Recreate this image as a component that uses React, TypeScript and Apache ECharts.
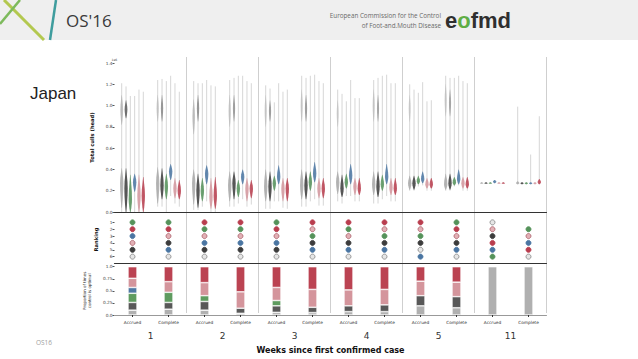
import React, { useEffect, useRef } from 'react';
import * as echarts from 'echarts';

const categories = ['Accrued', 'Complete', 'Accrued', 'Complete', 'Accrued', 'Complete', 'Accrued', 'Complete', 'Accrued', 'Complete', 'Accrued', 'Complete'];
const weeks = ['1', '2', '3', '4', '5', '11'];
const modelColors = ['#a9a9a9', '#3c3c3c', '#55925a', '#4a75a2', '#d4979d', '#b93d4e'];
const barColors = ['#b0b0b0', '#585858', '#5e9b5f', '#4f78a3', '#d4959c', '#bb4352'];

// violin: [whiskerLo, whiskerHi, bodyLo, bodyMid, bodyHi]  (x 1e6 head)
const violinGray = [[0, 1.21, 0.04, 0.27, 0.41], [0.05, 1.24, 0.08, 0.27, 0.42], [0.02, 1.23, 0.07, 0.27, 0.4], [0.05, 1.24, 0.1, 0.25, 0.38], [0.03, 1.19, 0.1, 0.24, 0.4], [0.05, 1.28, 0.12, 0.25, 0.4], [0.1, 1.15, 0.17, 0.28, 0.38], [0.08, 1.24, 0.16, 0.26, 0.38], [0.2, 1.2, 0.21, 0.27, 0.34], [0.2, 1.28, 0.21, 0.26, 0.36], [0.265, 0.28, 0.265, 0.27, 0.28], [0.26, 0.99, 0.26, 0.27, 0.29]];
const violinBlack = [[0, 1.18, 0.0, 0.22, 0.41], [0.05, 1.25, 0.12, 0.25, 0.41], [0.02, 1.21, 0.04, 0.2, 0.36], [0.05, 1.26, 0.12, 0.27, 0.38], [0.03, 1.16, 0.1, 0.24, 0.38], [0.05, 1.26, 0.12, 0.25, 0.38], [0.08, 1.11, 0.14, 0.22, 0.35], [0.08, 1.26, 0.14, 0.24, 0.38], [0.2, 1.15, 0.21, 0.27, 0.34], [0.2, 1.26, 0.21, 0.27, 0.36], [0.265, 0.28, 0.265, 0.27, 0.28], [0.26, 0.28, 0.26, 0.27, 0.28]];
const violinGreen = [[0, 1.09, 0.0, 0.12, 0.35], [0, 1.23, 0.12, 0.24, 0.36], [0.05, 1.21, 0.1, 0.2, 0.32], [0.08, 1.28, 0.14, 0.22, 0.3], [0.1, 1.03, 0.2, 0.27, 0.34], [0.1, 1.28, 0.2, 0.28, 0.38], [0.15, 1.04, 0.22, 0.28, 0.36], [0.12, 1.28, 0.2, 0.26, 0.35], [0.24, 1.12, 0.26, 0.29, 0.34], [0.24, 1.26, 0.25, 0.28, 0.33], [0.265, 0.28, 0.265, 0.27, 0.28], [0.26, 0.28, 0.26, 0.27, 0.28]];
const violinBlue = [[0, 1.09, 0.19, 0.28, 0.36], [0.15, 1.28, 0.3, 0.38, 0.45], [0.1, 1.24, 0.26, 0.36, 0.44], [0.12, 1.28, 0.26, 0.33, 0.4], [0.1, 1.21, 0.26, 0.33, 0.44], [0.12, 1.29, 0.28, 0.36, 0.47], [0.15, 1.24, 0.26, 0.34, 0.45], [0.15, 1.29, 0.26, 0.33, 0.45], [0.25, 1.22, 0.27, 0.31, 0.38], [0.25, 1.28, 0.26, 0.31, 0.4], [0.27, 0.3, 0.27, 0.285, 0.3], [0.26, 0.54, 0.26, 0.27, 0.28]];
const violinPink = [[0, 1.15, 0.0, 0.15, 0.35], [0.08, 1.21, 0.13, 0.22, 0.32], [0, 1.19, 0.03, 0.14, 0.32], [0.05, 1.23, 0.1, 0.22, 0.32], [0.04, 1.13, 0.1, 0.22, 0.32], [0.06, 1.23, 0.13, 0.22, 0.32], [0.1, 1.07, 0.16, 0.24, 0.32], [0.1, 1.21, 0.16, 0.23, 0.32], [0.2, 1.04, 0.22, 0.26, 0.32], [0.2, 1.23, 0.22, 0.27, 0.33], [0.265, 0.28, 0.265, 0.27, 0.28], [0.26, 0.28, 0.26, 0.27, 0.28]];
const violinRed = [[0, 1.13, 0.0, 0.15, 0.33], [0.05, 1.13, 0.12, 0.2, 0.3], [0, 1.18, 0.03, 0.15, 0.33], [0.07, 1.21, 0.13, 0.22, 0.3], [0.03, 1.15, 0.1, 0.22, 0.32], [0.06, 1.21, 0.13, 0.22, 0.32], [0.1, 1.07, 0.16, 0.22, 0.32], [0.1, 1.21, 0.16, 0.22, 0.32], [0.2, 1.05, 0.22, 0.26, 0.32], [0.2, 1.21, 0.22, 0.26, 0.33], [0.265, 0.28, 0.265, 0.27, 0.28], [0.26, 0.9, 0.26, 0.28, 0.31]];
// upper density lobes: [lo, hi, strength] or null
const lobeGray = [[0.82, 1.1, 1], [0.85, 1.1, 0.6], [0.73, 1.06, 0.9], [0.8, 1.1, 0.6], [0.8, 1.1, 0.5], [0.85, 1.15, 0.5], [0.8, 1.05, 0.4], [0.85, 1.15, 0.5], [0.85, 1.1, 0.4], [0.9, 1.2, 0.5], null, null];
const lobeBlack = [[0.88, 1.05, 1], [0.85, 1.1, 0.5], [0.85, 1.1, 0.5], [0.85, 1.1, 0.4], [0.85, 1.05, 0.4], [0.85, 1.1, 0.4], null, [0.85, 1.1, 0.3], null, [0.9, 1.15, 0.3], null, null];
const violins = [violinGray, violinBlack, violinGreen, violinBlue, violinPink, violinRed];
const lobes = [lobeGray, lobeBlack, null, null, null, null];

// ranking (1 = best)
const rankGray = [6, 6, 6, 6, 6, 6, 6, 6, 5, 6, 1, 6];
const rankBlack = [5, 4, 5, 5, 5, 4, 4, 4, 4, 4, 3, null];
const rankGreen = [1, 1, 2, 2, 1, 3, 2, 3, 3, 1, 6, 2];
const rankBlue = [3, 5, 4, 4, 4, 5, 5, 5, 6, 5, 5, 4];
const rankPink = [4, 3, 3, 3, 3, 2, 3, 2, 2, 3, 2, 3];
const rankRed = [2, 2, 1, 1, 2, 1, 1, 1, 1, 2, 4, 5];
const ranks = [rankGray, rankBlack, rankGreen, rankBlue, rankPink, rankRed];

// proportion of times control is optimal
const propGray = [0.10, 0.12, 0.10, 0.035, 0.055, 0.05, 0.07, 0.07, 0.19, 0.15, 1, 1];
const propBlack = [0.16, 0.14, 0.18, 0.105, 0.135, 0.11, 0.12, 0.14, 0.21, 0.23, 0, 0];
const propGreen = [0.19, 0.21, 0.12, 0, 0.11, 0, 0, 0, 0, 0, 0, 0];
const propBlue = [0.12, 0, 0, 0, 0, 0, 0, 0, 0, 0, 0, 0];
const propPink = [0.19, 0.22, 0.27, 0.34, 0.27, 0.37, 0.33, 0.32, 0.30, 0.30, 0, 0];
const propRed = [0.24, 0.31, 0.33, 0.52, 0.43, 0.47, 0.48, 0.47, 0.30, 0.32, 0, 0];
const props = [propGray, propBlack, propGreen, propBlue, propPink, propRed];

const rankTicks = [1, 2, 3, 4, 5, 6];
const cullTicks = [0, 0.2, 0.4, 0.6, 0.8, 1.0, 1.2, 1.4];
const propTicks = [0, 0.25, 0.5, 0.75, 1];
const propTickLabels = ['0.0', '0.25', '0.5', '0.75', '1.0'];

const FONT = 'DejaVu Sans';

function violinSeries(k: number) {
  const data = violins[k].map((v, i) => {
    const lb = lobes[k] ? (lobes[k] as any)[i] : null;
    return [i, v[0], v[1], v[2], v[3], v[4], lb ? lb[0] : -1, lb ? lb[1] : -1, lb ? lb[2] : 0];
  });
  const color = modelColors[k];
  return {
    type: 'custom',
    xAxisIndex: 0,
    yAxisIndex: 0,
    data,
    encode: { x: 0, y: [1, 2] },
    renderItem: (params: any, api: any) => {
      const cat = api.value(0);
      const band = api.size([1, 0])[0];
      const cx = api.coord([cat, 0])[0] + (k - 2.5) * band * 0.12;
      const Y = (v: number) => api.coord([cat, v])[1];
      const shape = (lo: number, mid: number, hi: number, w: number, op: number) => {
        const yl = Y(lo), ym = Y(mid), yh = Y(hi);
        const a = (t: number) => yl + (ym - yl) * t;
        const b = (t: number) => ym + (yh - ym) * t;
        const right = [[cx + w * 0.15, yl], [cx + w * 0.55, a(0.3)], [cx + w * 0.9, a(0.7)], [cx + w, ym], [cx + w * 0.85, b(0.35)], [cx + w * 0.45, b(0.7)], [cx + w * 0.1, yh]];
        const left = right.slice().reverse().map((p) => [2 * cx - p[0], p[1]]);
        return { type: 'polygon', shape: { points: right.concat(left) }, style: { fill: color, opacity: op } };
      };
      const children: any[] = [
        { type: 'line', shape: { x1: cx, y1: Y(api.value(1)), x2: cx, y2: Y(api.value(2)) }, style: { stroke: '#bdbdbd', opacity: 0.9, lineWidth: 0.7 } },
      ];
      const ulo = api.value(6), uhi = api.value(7), us = api.value(8);
      if (ulo >= 0) {
        children.push(shape(ulo, (ulo + uhi) / 2, uhi, 0.9 + 0.5 * us, 0.25 + 0.45 * us));
      }
      children.push(shape(api.value(3), api.value(4), api.value(5), 1.7, 0.85));
      return { type: 'group', children };
    },
    z: 3,
  };
}

function rankSeries(k: number) {
  const isGray = k === 0;
  const isPink = k === 4;
  return {
    type: 'scatter',
    xAxisIndex: 1,
    yAxisIndex: 1,
    data: ranks[k].map((r, i) => (r == null ? null : [i, r])).filter((d) => d),
    symbolSize: 5,
    itemStyle: {
      color: isGray ? '#e6e6e6' : isPink ? '#e2b0b5' : modelColors[k],
      borderColor: isGray ? '#8c8c8c' : isPink ? '#b26b75' : modelColors[k],
      borderWidth: 0.9,
      opacity: 1,
    },
    z: 3,
  };
}

function propSeries(k: number) {
  return {
    type: 'bar',
    xAxisIndex: 2,
    yAxisIndex: 2,
    stack: 'p',
    barWidth: 9,
    data: props[k].map((v) => (v === 0 ? '-' : v)),
    itemStyle: { color: barColors[k], borderColor: '#ffffff', borderWidth: 0.6 },
    z: 3,
  };
}

const GL = 114.5;
const GW = 432;

export default function App() {
  const ref = useRef<HTMLDivElement>(null);
  useEffect(() => {
    document.body.style.margin = '0';
    const chart = echarts.init(ref.current!, null, { renderer: 'svg' });
    const small = { fontFamily: FONT, fontSize: 4.3, color: '#444' };
    const option: any = {
      animation: false,
      backgroundColor: '#ffffff',
      textStyle: { fontFamily: FONT },
      grid: [
        { left: GL, width: GW, top: 63, height: 149 },
        { left: GL, width: GW, top: 215.5, height: 48 },
        { left: GL, width: GW, top: 266.7, height: 48.3 },
        { left: GL, width: GW, top: 57, height: 258 },
      ],
      xAxis: [
        { type: 'category', gridIndex: 0, data: categories, axisLine: { onZero: false, lineStyle: { color: '#333', width: 1.2 } }, axisTick: { show: false }, axisLabel: { show: false }, z: 4 },
        { type: 'category', gridIndex: 1, data: categories, position: 'bottom', axisLine: { onZero: false, lineStyle: { color: '#333', width: 1.2 } }, axisTick: { show: false }, axisLabel: { show: false }, z: 4 },
        {
          type: 'category', gridIndex: 2, data: categories,
          axisLine: { onZero: false, lineStyle: { color: '#999', width: 1 } },
          axisTick: { show: true, alignWithLabel: true, length: 2, lineStyle: { color: '#333' } },
          axisLabel: { ...small, margin: 5, color: '#333' },
          z: 4,
        },
        {
          type: 'category', gridIndex: 3, data: weeks,
          axisLine: { show: false }, axisTick: { show: false },
          splitLine: { show: true, interval: (i: number) => i !== 0, lineStyle: { color: '#cfcfcf', width: 1 } },
          axisLabel: { fontFamily: FONT, fontSize: 9, color: '#333', margin: 18 },
          name: 'Weeks since first confirmed case', nameLocation: 'middle', nameGap: 33,
          nameTextStyle: { fontFamily: FONT, fontSize: 8, fontWeight: 'bold', color: '#111' },
          z: 0,
        },
      ],
      yAxis: [
        {
          type: 'value', gridIndex: 0, min: 0, max: 1.4, interval: 0.2,
          axisLine: { show: false }, splitLine: { show: false },
          axisTick: { show: true, length: 2, customValues: cullTicks, lineStyle: { color: '#555' } },
          axisLabel: { ...small, margin: 2, customValues: cullTicks, formatter: (v: number) => v.toFixed(1) },
          name: 'Total culls (head)', nameLocation: 'middle', nameGap: 16,
          nameTextStyle: { fontFamily: FONT, fontSize: 5.2, fontWeight: 'bold', color: '#111' },
        },
        {
          type: 'value', gridIndex: 1, min: 0, max: 7, inverse: true,
          axisLine: { show: false }, splitLine: { show: false },
          axisTick: { show: true, length: 2, customValues: rankTicks, lineStyle: { color: '#555' } },
          axisLabel: { ...small, margin: 2, customValues: rankTicks },
          name: 'Ranking', nameLocation: 'middle', nameGap: 16,
          nameTextStyle: { fontFamily: FONT, fontSize: 5.2, fontWeight: 'bold', color: '#111' },
        },
        {
          type: 'value', gridIndex: 2, min: 0, max: 1,
          axisLine: { show: false }, splitLine: { show: false },
          axisTick: { show: true, length: 2, customValues: propTicks, lineStyle: { color: '#555' } },
          axisLabel: { ...small, margin: 2, customValues: propTicks, formatter: (v: number) => propTickLabels[propTicks.indexOf(v)] ?? String(v) },
          name: 'Proportion of times\ncontrol is optimal', nameLocation: 'middle', nameGap: 13,
          nameTextStyle: { fontFamily: FONT, fontSize: 4, color: '#222', lineHeight: 5 },
        },
        { type: 'value', gridIndex: 3, show: false, min: 0, max: 1 },
      ],
      series: [
        ...[0, 1, 2, 3, 4, 5].map(violinSeries),
        ...[0, 1, 2, 3, 4, 5].map(rankSeries),
        ...[0, 1, 2, 3, 4, 5].map(propSeries),
      ],
      graphic: [
        { type: 'rect', shape: { x: 0, y: 0, width: 638, height: 40 }, style: { fill: '#efefef' }, z: -10 },
        { type: 'line', shape: { x1: 4, y1: 0, x2: 44, y2: 40 }, style: { stroke: '#b3c84f', lineWidth: 3 } },
        { type: 'line', shape: { x1: 0, y1: 24, x2: 20, y2: 0 }, style: { stroke: '#7dba5c', lineWidth: 2.5 } },
        { type: 'line', shape: { x1: 56, y1: 0, x2: 50, y2: 40 }, style: { stroke: '#3f9d9e', lineWidth: 2.5 } },
        { type: 'text', x: 66, y: 20, style: { text: "OS'16", fontFamily: 'Open Sans', fontSize: 17, fill: '#3a3a3a', verticalAlign: 'middle' } },
        { type: 'text', x: 441, y: 15, style: { text: 'European Commission for the Control', fontFamily: 'Open Sans', fontSize: 6.3, fill: '#6a6a6a', align: 'right', verticalAlign: 'middle' } },
        { type: 'text', x: 441, y: 25, style: { text: 'of Foot-and.Mouth Disease', fontFamily: 'Open Sans', fontSize: 6.3, fill: '#6a6a6a', align: 'right', verticalAlign: 'middle' } },
        {
          type: 'text', x: 445, y: 20,
          style: {
            text: '{a|e}{g|o}{a|fmd}', verticalAlign: 'middle',
            rich: {
              a: { fontFamily: 'Liberation Sans', fontSize: 22, fontWeight: 'bold', fill: '#2f2f2f' },
              g: { fontFamily: 'Liberation Sans', fontSize: 22, fontWeight: 'bold', fill: '#5fae45' },
            },
          },
        },
        { type: 'text', x: 30, y: 93, style: { text: 'Japan', fontFamily: 'Liberation Sans', fontSize: 17, fill: '#222', verticalAlign: 'middle' } },
        { type: 'text', x: 36, y: 342, style: { text: 'OS16', fontFamily: 'Open Sans', fontSize: 6.5, fill: '#a0a0a0', verticalAlign: 'middle' } },
        { type: 'text', x: 111.5, y: 59.5, style: { text: '1e6', fontFamily: FONT, fontSize: 3, fill: '#444', verticalAlign: 'middle' } },
      ],
    };
    chart.setOption(option);
    return () => chart.dispose();
  }, []);
  return <div ref={ref} style={{ width: 638, height: 359 }} />;
}
